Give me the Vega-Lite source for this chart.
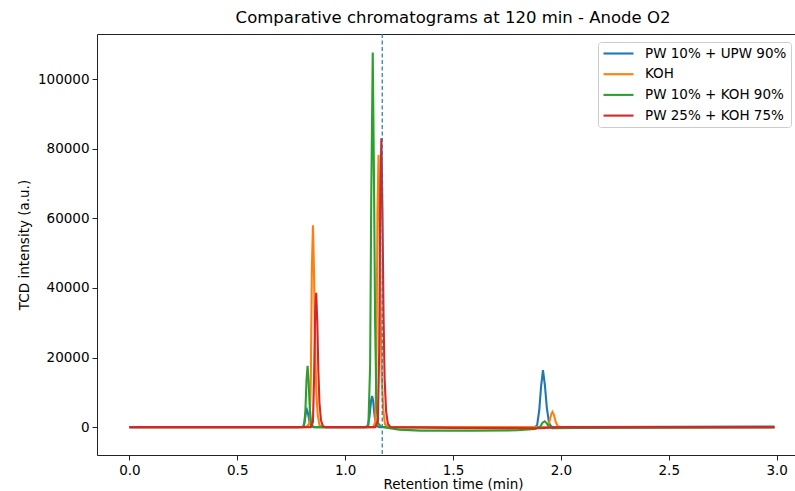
{
  "$schema": "https://vega.github.io/schema/vega-lite/v6.json",
  "autosize": "none",
  "width": 712,
  "height": 421,
  "padding": {"left": 97, "top": 34, "right": 0, "bottom": 40},
  "background": "white",
  "config": {
    "font": "DejaVu Sans",
    "view": {"stroke": "#222", "strokeWidth": 1},
    "axis": {"grid": false, "domain": false, "tickColor": "#222", "tickSize": 5, "labelColor": "#000", "titleColor": "#000", "labelFontSize": 13.5, "titleFontSize": 13.5, "titleFontWeight": "normal", "labelPadding": 3}
  },
  "title": {"text": "Comparative chromatograms at 120 min - Anode O2", "fontSize": 16.5, "fontWeight": "normal", "color": "#000", "offset": 7, "anchor": "middle"},
  "datasets": {
    "curves": [
      {"s": "PW 10% + UPW 90%", "t": 0.0, "v": 0},
      {"s": "PW 10% + UPW 90%", "t": 0.78, "v": 0},
      {"s": "PW 10% + UPW 90%", "t": 0.805, "v": 100},
      {"s": "PW 10% + UPW 90%", "t": 0.812, "v": 1500},
      {"s": "PW 10% + UPW 90%", "t": 0.818, "v": 4000},
      {"s": "PW 10% + UPW 90%", "t": 0.823, "v": 5000},
      {"s": "PW 10% + UPW 90%", "t": 0.828, "v": 4000},
      {"s": "PW 10% + UPW 90%", "t": 0.835, "v": 1500},
      {"s": "PW 10% + UPW 90%", "t": 0.845, "v": 100},
      {"s": "PW 10% + UPW 90%", "t": 0.86, "v": 0},
      {"s": "PW 10% + UPW 90%", "t": 1.09, "v": 0},
      {"s": "PW 10% + UPW 90%", "t": 1.105, "v": 300},
      {"s": "PW 10% + UPW 90%", "t": 1.113, "v": 3000},
      {"s": "PW 10% + UPW 90%", "t": 1.12, "v": 7500},
      {"s": "PW 10% + UPW 90%", "t": 1.125, "v": 9000},
      {"s": "PW 10% + UPW 90%", "t": 1.13, "v": 7500},
      {"s": "PW 10% + UPW 90%", "t": 1.137, "v": 3000},
      {"s": "PW 10% + UPW 90%", "t": 1.147, "v": 300},
      {"s": "PW 10% + UPW 90%", "t": 1.16, "v": 0},
      {"s": "PW 10% + UPW 90%", "t": 1.88, "v": 0},
      {"s": "PW 10% + UPW 90%", "t": 1.89, "v": 600},
      {"s": "PW 10% + UPW 90%", "t": 1.9, "v": 5000},
      {"s": "PW 10% + UPW 90%", "t": 1.908, "v": 11500},
      {"s": "PW 10% + UPW 90%", "t": 1.917, "v": 16400},
      {"s": "PW 10% + UPW 90%", "t": 1.926, "v": 12000},
      {"s": "PW 10% + UPW 90%", "t": 1.935, "v": 5500},
      {"s": "PW 10% + UPW 90%", "t": 1.945, "v": 1300},
      {"s": "PW 10% + UPW 90%", "t": 1.955, "v": 200},
      {"s": "PW 10% + UPW 90%", "t": 1.97, "v": 0},
      {"s": "PW 10% + UPW 90%", "t": 2.5, "v": 100},
      {"s": "PW 10% + UPW 90%", "t": 2.99, "v": 200},
      {"s": "KOH", "t": 0.0, "v": 0},
      {"s": "KOH", "t": 0.82, "v": 0},
      {"s": "KOH", "t": 0.836, "v": 1200},
      {"s": "KOH", "t": 0.841, "v": 14000},
      {"s": "KOH", "t": 0.846, "v": 46000},
      {"s": "KOH", "t": 0.851, "v": 58000},
      {"s": "KOH", "t": 0.856, "v": 44000},
      {"s": "KOH", "t": 0.861, "v": 23000},
      {"s": "KOH", "t": 0.866, "v": 10500},
      {"s": "KOH", "t": 0.873, "v": 3500},
      {"s": "KOH", "t": 0.881, "v": 600},
      {"s": "KOH", "t": 0.895, "v": 0},
      {"s": "KOH", "t": 1.13, "v": 0},
      {"s": "KOH", "t": 1.14, "v": 1500},
      {"s": "KOH", "t": 1.145, "v": 19000},
      {"s": "KOH", "t": 1.15, "v": 62000},
      {"s": "KOH", "t": 1.155, "v": 78200},
      {"s": "KOH", "t": 1.16, "v": 58000},
      {"s": "KOH", "t": 1.165, "v": 31000},
      {"s": "KOH", "t": 1.17, "v": 14000},
      {"s": "KOH", "t": 1.177, "v": 4700},
      {"s": "KOH", "t": 1.185, "v": 800},
      {"s": "KOH", "t": 1.2, "v": 0},
      {"s": "KOH", "t": 1.93, "v": 0},
      {"s": "KOH", "t": 1.94, "v": 300},
      {"s": "KOH", "t": 1.948, "v": 1800},
      {"s": "KOH", "t": 1.955, "v": 3700},
      {"s": "KOH", "t": 1.961, "v": 4400},
      {"s": "KOH", "t": 1.968, "v": 3500},
      {"s": "KOH", "t": 1.976, "v": 1500},
      {"s": "KOH", "t": 1.986, "v": 300},
      {"s": "KOH", "t": 2.0, "v": 0},
      {"s": "KOH", "t": 2.99, "v": 0},
      {"s": "PW 10% + KOH 90%", "t": 0.0, "v": 0},
      {"s": "PW 10% + KOH 90%", "t": 0.8, "v": 0},
      {"s": "PW 10% + KOH 90%", "t": 0.81, "v": 300},
      {"s": "PW 10% + KOH 90%", "t": 0.816, "v": 5000},
      {"s": "PW 10% + KOH 90%", "t": 0.821, "v": 13500},
      {"s": "PW 10% + KOH 90%", "t": 0.826, "v": 17600},
      {"s": "PW 10% + KOH 90%", "t": 0.831, "v": 13000},
      {"s": "PW 10% + KOH 90%", "t": 0.836, "v": 5500},
      {"s": "PW 10% + KOH 90%", "t": 0.843, "v": 900},
      {"s": "PW 10% + KOH 90%", "t": 0.855, "v": 0},
      {"s": "PW 10% + KOH 90%", "t": 1.1, "v": 0},
      {"s": "PW 10% + KOH 90%", "t": 1.108, "v": 600},
      {"s": "PW 10% + KOH 90%", "t": 1.116, "v": 18000},
      {"s": "PW 10% + KOH 90%", "t": 1.121, "v": 65000},
      {"s": "PW 10% + KOH 90%", "t": 1.128, "v": 107700},
      {"s": "PW 10% + KOH 90%", "t": 1.134, "v": 70000},
      {"s": "PW 10% + KOH 90%", "t": 1.139, "v": 30000},
      {"s": "PW 10% + KOH 90%", "t": 1.145, "v": 7000},
      {"s": "PW 10% + KOH 90%", "t": 1.152, "v": 1200},
      {"s": "PW 10% + KOH 90%", "t": 1.165, "v": 200},
      {"s": "PW 10% + KOH 90%", "t": 1.2, "v": -200},
      {"s": "PW 10% + KOH 90%", "t": 1.25, "v": -700},
      {"s": "PW 10% + KOH 90%", "t": 1.35, "v": -1000},
      {"s": "PW 10% + KOH 90%", "t": 1.6, "v": -1000},
      {"s": "PW 10% + KOH 90%", "t": 1.8, "v": -900},
      {"s": "PW 10% + KOH 90%", "t": 1.88, "v": -500},
      {"s": "PW 10% + KOH 90%", "t": 1.905, "v": 200},
      {"s": "PW 10% + KOH 90%", "t": 1.915, "v": 1300},
      {"s": "PW 10% + KOH 90%", "t": 1.925, "v": 1700},
      {"s": "PW 10% + KOH 90%", "t": 1.935, "v": 1100},
      {"s": "PW 10% + KOH 90%", "t": 1.945, "v": 200},
      {"s": "PW 10% + KOH 90%", "t": 1.96, "v": -300},
      {"s": "PW 10% + KOH 90%", "t": 2.1, "v": -200},
      {"s": "PW 10% + KOH 90%", "t": 2.99, "v": -100},
      {"s": "PW 25% + KOH 75%", "t": 0.0, "v": 0},
      {"s": "PW 25% + KOH 75%", "t": 0.84, "v": 0},
      {"s": "PW 25% + KOH 75%", "t": 0.851, "v": 1500},
      {"s": "PW 25% + KOH 75%", "t": 0.856, "v": 14000},
      {"s": "PW 25% + KOH 75%", "t": 0.861, "v": 33000},
      {"s": "PW 25% + KOH 75%", "t": 0.866, "v": 38600},
      {"s": "PW 25% + KOH 75%", "t": 0.871, "v": 30000},
      {"s": "PW 25% + KOH 75%", "t": 0.876, "v": 16000},
      {"s": "PW 25% + KOH 75%", "t": 0.881, "v": 7000},
      {"s": "PW 25% + KOH 75%", "t": 0.888, "v": 2000},
      {"s": "PW 25% + KOH 75%", "t": 0.897, "v": 300},
      {"s": "PW 25% + KOH 75%", "t": 0.91, "v": 0},
      {"s": "PW 25% + KOH 75%", "t": 1.14, "v": 0},
      {"s": "PW 25% + KOH 75%", "t": 1.152, "v": 1800},
      {"s": "PW 25% + KOH 75%", "t": 1.158, "v": 22000},
      {"s": "PW 25% + KOH 75%", "t": 1.163, "v": 66000},
      {"s": "PW 25% + KOH 75%", "t": 1.168, "v": 83000},
      {"s": "PW 25% + KOH 75%", "t": 1.173, "v": 62000},
      {"s": "PW 25% + KOH 75%", "t": 1.178, "v": 32000},
      {"s": "PW 25% + KOH 75%", "t": 1.183, "v": 14000},
      {"s": "PW 25% + KOH 75%", "t": 1.19, "v": 4500},
      {"s": "PW 25% + KOH 75%", "t": 1.198, "v": 1000},
      {"s": "PW 25% + KOH 75%", "t": 1.21, "v": 0},
      {"s": "PW 25% + KOH 75%", "t": 1.5, "v": -200},
      {"s": "PW 25% + KOH 75%", "t": 1.9, "v": -300},
      {"s": "PW 25% + KOH 75%", "t": 2.0, "v": 0},
      {"s": "PW 25% + KOH 75%", "t": 2.99, "v": 0}
    ],
    "marker": [{"t": 1.172}]
  },
  "layer": [
    {
      "data": {"name": "curves"},
      "mark": {"type": "line", "strokeWidth": 2.1, "clip": true},
      "encoding": {
        "x": {"field": "t", "type": "quantitative", "scale": {"domain": [-0.15, 3.15], "nice": false, "zero": false},
              "axis": {"title": "Retention time (min)", "values": [0, 0.5, 1, 1.5, 2, 2.5, 3], "format": ".1f", "titlePadding": 1}},
        "y": {"field": "v", "type": "quantitative", "scale": {"domain": [-8000, 113000], "nice": false, "zero": false},
              "axis": {"title": "TCD intensity (a.u.)", "values": [0, 20000, 40000, 60000, 80000, 100000], "format": "d", "titlePadding": 6}},
        "color": {"field": "s", "type": "nominal",
                  "scale": {"domain": ["PW 10% + UPW 90%", "KOH", "PW 10% + KOH 90%", "PW 25% + KOH 75%"], "range": ["#1f77b4", "#ff7f0e", "#2ca02c", "#d62728"]},
                  "legend": {"title": null, "orient": "none", "legendX": 501, "legendY": 8,
                             "symbolType": "M-2.5,0H2.5", "symbolSize": 144, "symbolStrokeWidth": 2.1,
                             "labelFontSize": 13.5, "labelColor": "#000", "labelOffset": 19, "symbolOffset": 9,
                             "rowPadding": 6.7, "padding": 4, "strokeColor": "#cccccc", "fillColor": "rgba(255,255,255,0.8)", "cornerRadius": 3}},
        "order": {"field": "t", "type": "quantitative"}
      }
    },
    {
      "data": {"name": "marker"},
      "mark": {"type": "rule", "color": "#1f77b4", "strokeWidth": 1.2, "strokeDash": [4, 2.5]},
      "encoding": {"x": {"field": "t", "type": "quantitative"}}
    }
  ]
}
